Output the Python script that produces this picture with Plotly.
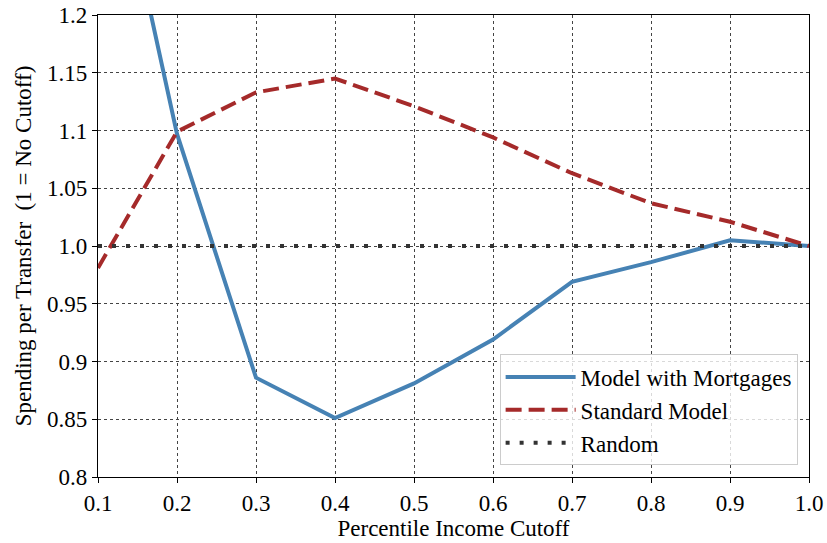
import plotly.graph_objects as go

cutoffs = [0.1, 0.2, 0.3, 0.4, 0.5, 0.6, 0.7, 0.8, 0.9, 1.0]
mortgage_model = [1.41, 1.097, 0.886, 0.851, 0.881, 0.919, 0.969, 0.986, 1.005, 1.0]
standard_model = [0.981, 1.099, 1.133, 1.145, 1.121, 1.094, 1.063, 1.037, 1.021, 1.0]
random_model = [1.0, 1.0, 1.0, 1.0, 1.0, 1.0, 1.0, 1.0, 1.0, 1.0]

y_tickvals = [0.8, 0.85, 0.9, 0.95, 1.0, 1.05, 1.1, 1.15, 1.2]
y_ticktext = ["0.8", "0.85", "0.9", "0.95", "1.0", "1.05", "1.1", "1.15", "1.2"]
x_tickvals = [0.1, 0.2, 0.3, 0.4, 0.5, 0.6, 0.7, 0.8, 0.9, 1.0]

FONT = "Liberation Serif"
FS = 23

fig = go.Figure()
fig.add_trace(go.Scatter(x=cutoffs, y=mortgage_model, mode="lines",
                         name="Model with Mortgages",
                         line=dict(color="#4682b4", width=4)))
fig.add_trace(go.Scatter(x=cutoffs, y=standard_model, mode="lines",
                         name="Standard Model",
                         line=dict(color="#a52a2a", width=4, dash="16px,7px")))
fig.add_trace(go.Scatter(x=cutoffs, y=random_model, mode="lines",
                         name="Random",
                         line=dict(color="#333333", width=4, dash="4px,10px")))

axis_common = dict(showline=True, linecolor="black", linewidth=1.3, mirror=True,
                   ticks="outside", ticklen=5, tickcolor="black", automargin=False,
                   showgrid=True, gridcolor="#444444", griddash="dot", gridwidth=1,
                   zeroline=False, tickfont=dict(family=FONT, size=FS, color="black"))

fig.update_layout(
    width=827, height=543,
    margin=dict(l=98, r=18, t=15, b=66),
    paper_bgcolor="white", plot_bgcolor="white",
    font=dict(family=FONT, size=FS, color="black"),
    xaxis=dict(range=[0.1, 1.0], tickvals=x_tickvals, tickformat=".1f",
               title=dict(text="Percentile Income Cutoff", font=dict(family=FONT, size=FS), standoff=0),
               **axis_common),
    yaxis=dict(range=[0.8, 1.2], tickvals=y_tickvals, ticktext=y_ticktext,
               title=dict(text="Spending per Transfer  (1 = No Cutoff)", font=dict(family=FONT, size=FS), standoff=8),
               **axis_common),
    legend=dict(x=0.984, y=0.025, xanchor="right", yanchor="bottom", itemwidth=70,
                bgcolor="rgba(255,255,255,0.8)", bordercolor="#cccccc", borderwidth=1,
                font=dict(family=FONT, size=FS, color="black")),
    showlegend=True,
)

fig.write_html("out.html", config={"displayModeBar": False},
               post_script="document.body.style.margin='0';document.body.style.overflow='hidden';")
